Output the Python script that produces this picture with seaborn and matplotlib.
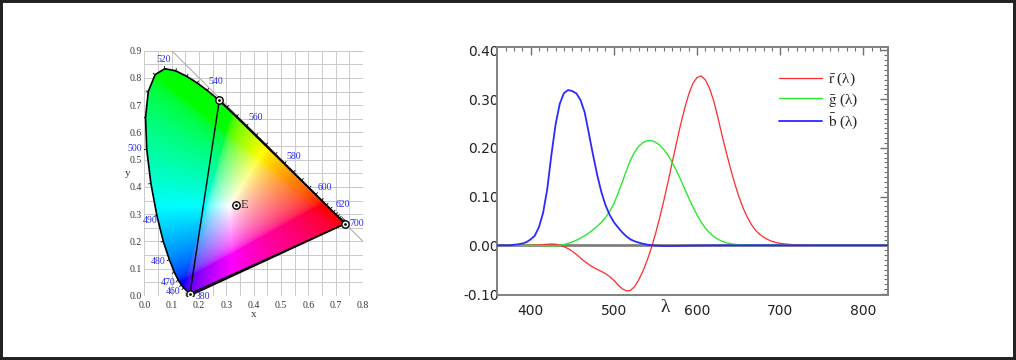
import numpy as np
import pandas as pd
import matplotlib
matplotlib.use("Agg")
import matplotlib.pyplot as plt
from matplotlib.patches import Polygon, Rectangle
from matplotlib.ticker import MultipleLocator, FormatStrFormatter
import seaborn as sns

# =====================
# DATA - CHROMATICITY DIAGRAM
# =====================
# spectral locus, 380-700 nm in 5 nm steps
locus_nm = list(range(380, 705, 5))
locus_x = [0.1741, 0.1740, 0.1738, 0.1736, 0.1733, 0.1730, 0.1726, 0.1721, 0.1714, 0.1703,
           0.1689, 0.1669, 0.1644, 0.1611, 0.1566, 0.1510, 0.1440, 0.1355, 0.1241, 0.1096,
           0.0913, 0.0687, 0.0454, 0.0235, 0.0082, 0.0039, 0.0139, 0.0389, 0.0743, 0.1142,
           0.1547, 0.1929, 0.2296, 0.2658, 0.3016, 0.3373, 0.3731, 0.4087, 0.4441, 0.4788,
           0.5125, 0.5448, 0.5752, 0.6029, 0.6270, 0.6482, 0.6658, 0.6801, 0.6915, 0.7006,
           0.7079, 0.7140, 0.7190, 0.7230, 0.7260, 0.7283, 0.7300, 0.7311, 0.7320, 0.7327,
           0.7334, 0.7340, 0.7344, 0.7346, 0.7347]
locus_y = [0.0050, 0.0050, 0.0049, 0.0049, 0.0048, 0.0048, 0.0048, 0.0048, 0.0051, 0.0058,
           0.0069, 0.0086, 0.0109, 0.0138, 0.0177, 0.0227, 0.0297, 0.0399, 0.0578, 0.0868,
           0.1327, 0.2007, 0.2950, 0.4127, 0.5384, 0.6548, 0.7502, 0.8120, 0.8338, 0.8262,
           0.8059, 0.7816, 0.7543, 0.7243, 0.6923, 0.6589, 0.6245, 0.5896, 0.5547, 0.5202,
           0.4866, 0.4544, 0.4242, 0.3965, 0.3725, 0.3514, 0.3340, 0.3197, 0.3083, 0.2993,
           0.2920, 0.2859, 0.2809, 0.2770, 0.2740, 0.2717, 0.2700, 0.2689, 0.2680, 0.2673,
           0.2666, 0.2660, 0.2656, 0.2654, 0.2653]

# CIE RGB primaries (700, 546.1, 435.8 nm) and equal energy point E
prim_x = [0.7347, 0.2738, 0.1666]
prim_y = [0.2653, 0.7174, 0.0089]
white_x = [1 / 3]
white_y = [1 / 3]

label_nm = [380, 460, 470, 480, 490, 500, 520, 540, 560, 580, 600, 620, 700]
label_offsets = [(7.5, -1.5), (-7.7, -2.8), (-7.7, -1.6), (-7.9, -1.4), (-5, -3.5), (-8.5, 0.4),
                 (-0.6, 6.9), (6.3, 6.1), (6.7, 6.1), (6.4, 5.1), (6.7, 5.2), (6.8, 5.5), (8.5, 0)]

# =====================
# DATA - COLOUR MATCHING FUNCTIONS
# =====================
wavelength = list(range(360, 835, 5))
r_bar = [0, 0, 0, 0, 0.00003, 0.00005, 0.0001, 0.00017, 0.0003, 0.00047,
         0.00084, 0.00139, 0.00211, 0.00266, 0.00218, 0.00036, -0.00261, -0.00673, -0.01213, -0.01874,
         -0.02608, -0.03324, -0.03933, -0.04471, -0.04939, -0.05364, -0.05814, -0.06414, -0.07173, -0.0812,
         -0.08901, -0.09356, -0.09264, -0.08473, -0.07101, -0.05316, -0.03152, -0.00613, 0.02279, 0.05514,
         0.0906, 0.1284, 0.16768, 0.20715, 0.24526, 0.27989, 0.30928, 0.33184, 0.34429, 0.34756,
         0.33971, 0.32265, 0.29708, 0.26348, 0.22677, 0.19233, 0.15968, 0.12905, 0.10167, 0.07857,
         0.05932, 0.04366, 0.03149, 0.02294, 0.01687, 0.01187, 0.00819, 0.00572, 0.0041, 0.00291,
         0.0021, 0.00148, 0.00105, 0.00074, 0.00052, 0.00036, 0.00025, 0.00017, 0.00012, 0.00008,
         0.00006, 0.00004, 0.00003, 0.00001, 0.00001, 0, 0, 0, 0, 0,
         0, 0, 0, 0, 0]
g_bar = [0, 0, 0, 0, -0.00001, -0.00002, -0.00004, -0.00007, -0.00014, -0.00022,
         -0.00041, -0.0007, -0.0011, -0.00143, -0.00119, -0.00021, 0.00149, 0.00379, 0.00678, 0.01046,
         0.01485, 0.01977, 0.02538, 0.03183, 0.03914, 0.04713, 0.05689, 0.06948, 0.08536, 0.10593,
         0.1286, 0.15262, 0.17468, 0.19113, 0.20317, 0.21083, 0.21466, 0.21487, 0.21178, 0.20588,
         0.19702, 0.18522, 0.17087, 0.15429, 0.1361, 0.11686, 0.09754, 0.07909, 0.06246, 0.04776,
         0.03557, 0.02583, 0.01828, 0.01253, 0.00833, 0.00537, 0.00334, 0.00199, 0.00116, 0.00066,
         0.00037, 0.00021, 0.00011, 0.00006, 0.00003, 0.00001, 0, 0, 0, 0,
         0, 0, 0, 0, 0, 0, 0, 0, 0, 0,
         0, 0, 0, 0, 0, 0, 0, 0, 0, 0,
         0, 0, 0, 0, 0]
b_bar = [0, 0, 0, 0, 0.00117, 0.00189, 0.00359, 0.00647, 0.01214, 0.01969,
         0.03707, 0.06637, 0.11541, 0.18575, 0.24769, 0.29012, 0.31228, 0.3186, 0.3167, 0.31166,
         0.29821, 0.27295, 0.22991, 0.18592, 0.14494, 0.10968, 0.08257, 0.06246, 0.04776, 0.03688,
         0.02698, 0.01842, 0.01221, 0.0083, 0.00549, 0.0032, 0.00146, 0.00023, -0.00058, -0.00105,
         -0.0013, -0.00138, -0.00135, -0.00123, -0.00108, -0.00093, -0.00079, -0.00063, -0.00049, -0.00038,
         -0.0003, -0.00022, -0.00015, -0.00011, -0.00008, -0.00005, -0.00003, -0.00002, -0.00001, -0.00001,
         0, 0, 0, 0, 0, 0, 0, 0, 0, 0,
         0, 0, 0, 0, 0, 0, 0, 0, 0, 0,
         0, 0, 0, 0, 0, 0, 0, 0, 0, 0,
         0, 0, 0, 0, 0]
legend_labels = [r'$\bar{\rm r}$ (λ)', r'$\bar{\rm g}$ (λ)', r'$\bar{\rm b}$ (λ)']

# =====================
# STYLE
# =====================
sns.set_style("white")
plt.rcParams['font.family'] = ['DejaVu Sans']
plt.rcParams['mathtext.fontset'] = 'stix'
serif = ['Liberation Serif', 'DejaVu Serif']

fig = plt.figure(figsize=(10.16, 3.6), dpi=100)
fig.patches.append(Rectangle((0, 0), 1, 1, transform=fig.transFigure, fill=False,
                             edgecolor='#222222', linewidth=4.3))

# =====================
# LEFT - xy CHROMATICITY
# =====================
ax1 = fig.add_axes([0.1422, 0.1778, 0.2151, 0.6814])
ax1.set_xlim(0, 0.8)
ax1.set_ylim(0, 0.9)

# colour fill (xyY with Y=1 -> sRGB, normalised to max component)
gx = np.linspace(0, 0.8, 400)
gy = np.linspace(0.002, 0.9, 450)
GX, GY = np.meshgrid(gx, gy)
XYZ = np.stack([GX / GY, np.ones_like(GX), (1 - GX - GY) / GY], axis=-1)
M = np.array([[3.2406, -1.5372, -0.4986],
              [-0.9689, 1.8758, 0.0415],
              [0.0557, -0.2040, 1.0570]])
rgb = np.clip(XYZ @ M.T, 0, None)
rgb = rgb / (rgb.max(axis=-1, keepdims=True) + 1e-9)
rgb = np.where(rgb <= 0.0031308, 12.92 * rgb, 1.055 * np.power(rgb, 1 / 2.4) - 0.055)
rgb = np.clip(rgb, 0, 1)

locus_pts = np.column_stack([locus_x, locus_y])
clip_poly = Polygon(locus_pts, closed=True, transform=ax1.transData, facecolor='none', edgecolor='none')
ax1.add_patch(clip_poly)
im = ax1.imshow(rgb, origin='lower', extent=[0, 0.8, 0.002, 0.9], aspect='auto',
                interpolation='bilinear', zorder=1)
im.set_clip_path(clip_poly)
ax1.add_patch(Polygon(locus_pts, closed=True, facecolor='none', edgecolor='black',
                      linewidth=1.2, zorder=3))

# grid
ax1.set_xticks(np.arange(0, 0.81, 0.1))
ax1.set_yticks(np.arange(0, 0.91, 0.1))
ax1.xaxis.set_minor_locator(MultipleLocator(0.05))
ax1.yaxis.set_minor_locator(MultipleLocator(0.05))
ax1.xaxis.set_major_formatter(FormatStrFormatter('%.1f'))
ax1.yaxis.set_major_formatter(FormatStrFormatter('%.1f'))
ax1.grid(True, which='both', color='#cacaca', linewidth=0.7)
ax1.set_axisbelow(True)
for s in ax1.spines.values():
    s.set_visible(False)
ax1.tick_params(which='both', length=0, labelsize=7, colors='#333333')
ax1.tick_params(axis='y', pad=2)
ax1.tick_params(axis='x', pad=3.5)
for lab in ax1.get_xticklabels() + ax1.get_yticklabels():
    lab.set_family(serif)
ax1.set_xlabel('x', family=serif, fontsize=8, labelpad=0, color='#333333')
ax1.set_ylabel('y', family=serif, fontsize=8, rotation=0, labelpad=1, color='#333333', va='center')

# x + y = 1 line
ax1.axline((0, 1), slope=-1, color='#b0b0b0', linewidth=0.8, zorder=0.8)

# tick marks on the locus
cx, cy = 1 / 3, 1 / 3
for i, nm in enumerate(locus_nm):
    if nm < 460 or i == 0 or i == len(locus_nm) - 1:
        continue
    tx = locus_x[i + 1] - locus_x[i - 1]
    ty = locus_y[i + 1] - locus_y[i - 1]
    n = np.array([ty, -tx]) / np.hypot(tx, ty)
    if np.dot(n, [locus_x[i] - cx, locus_y[i] - cy]) < 0:
        n = -n
    ax1.plot([locus_x[i], locus_x[i] + 0.009 * n[0]], [locus_y[i], locus_y[i] + 0.009 * n[1]],
             color='black', linewidth=0.6, zorder=3)

# primaries triangle and markers
tri = Polygon(np.column_stack([prim_x, prim_y]), closed=True, facecolor='none',
              edgecolor='black', linewidth=1.0, zorder=3)
ax1.add_patch(tri)
mk_x = prim_x + white_x
mk_y = prim_y + white_y
sns.scatterplot(x=mk_x, y=mk_y, ax=ax1, s=28, color='white', edgecolor='black', linewidth=1.0, zorder=5)
sns.scatterplot(x=mk_x, y=mk_y, ax=ax1, s=4, color='black', edgecolor='black', linewidth=0, zorder=6)
ax1.annotate('E', (white_x[0], white_y[0]), xytext=(4, 0), textcoords='offset points',
             va='center', ha='left', fontsize=9, family=serif, color='#333333')

# wavelength labels
for nm, off in zip(label_nm, label_offsets):
    i = locus_nm.index(nm)
    ax1.annotate(str(nm), (locus_x[i], locus_y[i]), xytext=off, textcoords='offset points',
                 ha='center', va='center', fontsize=7, family=serif, color='#2a2aee',
                 annotation_clip=False, zorder=7)

# =====================
# RIGHT - CIE RGB COLOUR MATCHING FUNCTIONS
# =====================
ax2 = fig.add_axes([0.4895, 0.1792, 0.3848, 0.6889])
df = pd.DataFrame({'wavelength': wavelength, 'r': r_bar, 'g': g_bar, 'b': b_bar})

ax2.axhline(0, color='#808080', linewidth=2, zorder=1)
sns.lineplot(data=df, x='wavelength', y='r', ax=ax2, color='#ff2a2a', linewidth=0.9,
             label=legend_labels[0], zorder=2)
sns.lineplot(data=df, x='wavelength', y='g', ax=ax2, color='#2ee82e', linewidth=1.0,
             label=legend_labels[1], zorder=3)
sns.lineplot(data=df, x='wavelength', y='b', ax=ax2, color='#2a2aff', linewidth=1.3,
             label=legend_labels[2], zorder=4)

ax2.set_xlim(360, 830)
ax2.set_ylim(-0.103, 0.406)
ax2.xaxis.set_major_locator(MultipleLocator(100))
ax2.xaxis.set_minor_locator(MultipleLocator(10))
ax2.yaxis.set_major_locator(MultipleLocator(0.1))
ax2.yaxis.set_minor_locator(MultipleLocator(0.01))
ax2.yaxis.set_major_formatter(FormatStrFormatter('%.2f'))
ax2.set_xlabel('')
ax2.set_ylabel('')
for s in ax2.spines.values():
    s.set_color('#808080')
    s.set_linewidth(1.4)
ax2.tick_params(which='both', direction='in', top=True, right=True, color='#707070')
ax2.tick_params(which='major', length=6, width=1.0, labelsize=10, labelcolor='#222222')
ax2.tick_params(which='minor', length=3, width=0.8)
ax2.tick_params(axis='y', pad=-1)
ax2.tick_params(axis='x', pad=6)
ax2.text(562, -0.05, 'λ', transform=ax2.get_xaxis_transform(), ha='center', va='center',
         fontsize=14, family=serif, color='#222222')

leg = ax2.legend(loc='upper left', bbox_to_anchor=(0.72, 0.905), frameon=False,
                 handlelength=2.8, handletextpad=0.45, labelspacing=0.2, borderaxespad=0,
                 borderpad=0, prop={'family': serif, 'size': 11})

plt.savefig('out.png', dpi=100)
